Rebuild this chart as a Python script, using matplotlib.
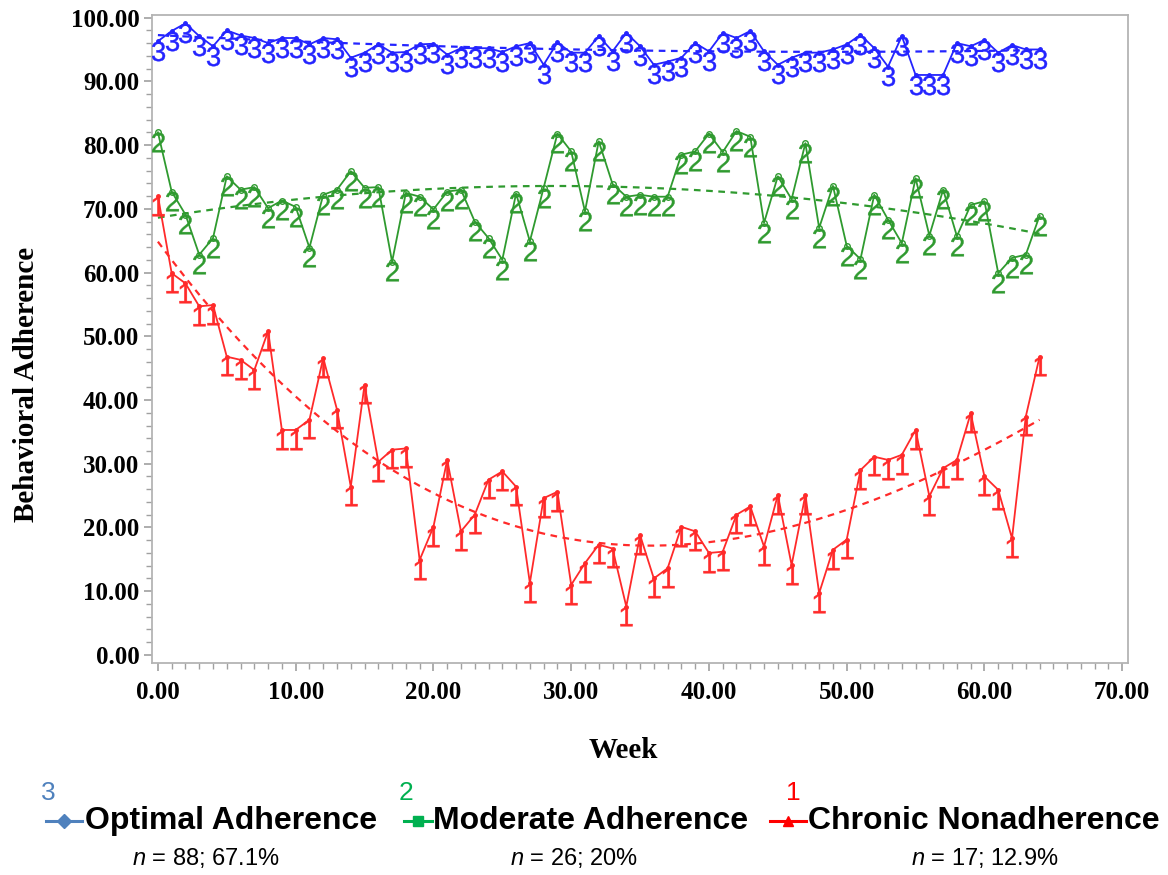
import numpy as np
import matplotlib.pyplot as plt
from matplotlib.lines import Line2D
from matplotlib.ticker import MultipleLocator, FormatStrFormatter
from matplotlib.transforms import offset_copy

plt.rcParams['mathtext.fontset'] = 'custom'
plt.rcParams['mathtext.it'] = 'Liberation Sans:italic'
plt.rcParams['mathtext.rm'] = 'Liberation Sans'

# weekly mean adherence per trajectory group
weeks = np.arange(65)

optimal = [96.3, 97.9, 99.1, 97.1, 95.5, 98.0, 97.2, 96.8, 96.0, 96.8,
           96.8, 95.8, 96.8, 96.6, 93.7, 94.5, 95.8, 94.5, 94.6, 95.8,
           95.9, 94.2, 95.2, 95.2, 95.2, 94.6, 95.5, 96.0, 92.6, 96.1,
           94.5, 94.5, 97.1, 94.7, 97.6, 95.5, 92.6, 93.1, 93.7, 96.0,
           94.7, 97.6, 96.8, 97.9, 94.7, 92.6, 93.7, 94.5, 94.5, 95.0,
           95.8, 97.3, 95.2, 92.3, 97.1, 91.0, 91.0, 91.0, 96.0, 95.5,
           96.5, 94.5, 95.7, 95.0, 95.0]

moderate = [82.0, 72.7, 69.1, 62.8, 65.4, 75.1, 73.0, 73.4, 70.1, 71.3,
            70.3, 63.9, 72.2, 73.0, 75.9, 73.3, 73.4, 61.7, 72.5, 71.9,
            69.9, 72.7, 73.0, 68.0, 65.4, 62.0, 72.4, 64.9, 73.3, 81.8,
            79.0, 69.6, 80.6, 73.9, 71.9, 72.2, 71.9, 71.9, 78.5, 79.0,
            81.8, 78.9, 82.2, 81.3, 67.8, 75.1, 71.5, 80.3, 67.0, 73.6,
            64.2, 62.1, 72.2, 68.3, 64.6, 74.8, 65.8, 73.0, 65.7, 70.6,
            71.2, 59.9, 62.3, 62.8, 68.9]

chronic = [72.0, 59.9, 58.3, 54.7, 54.9, 46.8, 46.3, 44.7, 50.8, 35.3,
           35.3, 36.9, 46.6, 38.5, 26.4, 42.4, 30.3, 32.2, 32.4, 14.9,
           20.1, 30.6, 19.4, 22.0, 27.5, 28.8, 26.4, 11.3, 24.6, 25.6,
           11.0, 14.4, 17.3, 16.7, 7.6, 18.8, 12.0, 13.6, 20.1, 19.4,
           16.0, 16.2, 22.0, 23.3, 17.0, 25.1, 14.1, 25.1, 9.7, 16.5,
           18.1, 29.0, 31.1, 30.6, 31.4, 35.3, 24.9, 29.3, 30.6, 37.9,
           28.0, 25.9, 18.3, 37.4, 46.8]

group_digits = ['3', '2', '1']
group_names = ['Optimal Adherence', 'Moderate Adherence', 'Chronic Nonadherence']
group_counts = ['$\\it{n}$ = 88; 67.1%', '$\\it{n}$ = 26; 20%', '$\\it{n}$ = 17; 12.9%']
trend_degree = [2, 2, 3]

line_colors = ['#2424ff', '#2f9a2f', '#ff2a2a']
legend_colors = ['#4f81bd', '#00b050', '#ff0000']
legend_markers = ['D', 's', '^']

fig = plt.figure(figsize=(11.68, 8.75), dpi=100)
ax = fig.add_axes([0.130, 0.2423, 0.836, 0.741])

glyph_shift = offset_copy(ax.transData, fig=fig, x=0, y=-7, units='points')

for vals, digit, col, deg in zip([optimal, moderate, chronic], group_digits,
                                 line_colors, trend_degree):
    vals = np.array(vals)
    ax.plot(weeks, vals, color=col, lw=1.3,
            marker='o', ms=4 if digit == '2' else 2.5,
            mfc='none' if digit == '2' else col, mec=col, zorder=3)
    ax.plot(weeks, vals, ls='none', marker='$' + digit + '$', ms=14,
            color=col, mew=0.3, transform=glyph_shift, zorder=3)
    # fitted trend
    coef = np.polyfit(weeks, vals, deg)
    ax.plot(weeks, np.polyval(coef, weeks), color=col, lw=1.6,
            ls=(0, (3, 2.5)), zorder=2)

ax.set_xlim(-0.44, 70.44)
ax.set_ylim(-1.26, 100.47)
ax.xaxis.set_major_locator(MultipleLocator(10))
ax.xaxis.set_minor_locator(MultipleLocator(1))
ax.yaxis.set_major_locator(MultipleLocator(10))
ax.yaxis.set_minor_locator(MultipleLocator(2))
ax.xaxis.set_major_formatter(FormatStrFormatter('%.2f'))
ax.yaxis.set_major_formatter(FormatStrFormatter('%.2f'))

for s in ax.spines.values():
    s.set_color('#b4b4b4')
    s.set_linewidth(1.3)
ax.tick_params(which='both', direction='out', color='#a0a0a0')
ax.tick_params(which='major', length=6, width=1.2)
ax.tick_params(which='minor', length=4, width=1.0)
ax.tick_params(axis='y', which='major', pad=3)
ax.tick_params(axis='x', which='major', pad=7)
for lab in ax.get_xticklabels() + ax.get_yticklabels():
    lab.set_fontfamily('Liberation Serif')
    lab.set_fontweight('bold')
    lab.set_fontsize(18)

ax.set_xlabel('Week', family='Liberation Serif', weight='bold', fontsize=21)
ax.set_ylabel('Behavioral Adherence', family='Liberation Serif', weight='bold', fontsize=21)
ax.xaxis.set_label_coords(0.4826, -0.114)
ax.yaxis.set_label_coords(-0.115, 0.429)

# legend below the plot
digit_x = [41, 399, 786]
line_x = [(46, 82), (404, 432), (770, 806)]
name_x = [85, 433, 808]
count_x = [206, 574, 985]


def fx(px):
    return px / 1168


def fy(py):
    return 1 - py / 875


for i in range(3):
    fig.text(fx(digit_x[i]), fy(793), group_digits[i], color=legend_colors[i],
             fontsize=19, ha='left', va='center', family='Liberation Sans')
    x0, x1 = line_x[i]
    fig.add_artist(Line2D([fx(x0), fx(x1)], [fy(821), fy(821)], color=legend_colors[i],
                          lw=2.2, transform=fig.transFigure))
    fig.add_artist(Line2D([fx((x0 + x1) / 2)], [fy(821)], color=legend_colors[i],
                          marker=legend_markers[i], ms=7, transform=fig.transFigure))
    fig.text(fx(name_x[i]), fy(821), group_names[i], fontsize=23, weight='bold',
             ha='left', va='center', family='Liberation Sans')
    fig.text(fx(count_x[i]), fy(858), group_counts[i], fontsize=17,
             ha='center', va='center', family='Liberation Sans')

fig.savefig('out.png', dpi=100)
